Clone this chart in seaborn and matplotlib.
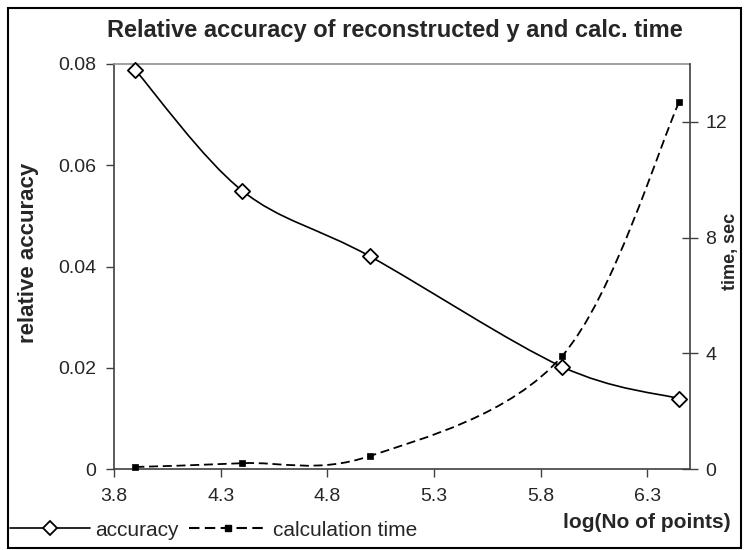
import numpy as np
import matplotlib
matplotlib.use('Agg')
import matplotlib.pyplot as plt
from matplotlib.path import Path
from matplotlib.patches import PathPatch, Rectangle
from matplotlib.lines import Line2D
import seaborn as sns

# data
log_points = [3.9, 4.4, 5.0, 5.9, 6.45]
accuracy = [0.0788, 0.0550, 0.0420, 0.0202, 0.0139]
calc_time = [0.07, 0.20, 0.45, 3.9, 12.7]
x_ticks = [3.8, 4.3, 4.8, 5.3, 5.8, 6.3]
acc_ticks = [0, 0.02, 0.04, 0.06, 0.08]
time_ticks = [0, 4, 8, 12]


def smooth_path(x, y):
    # Excel style smoothed line: one cubic bezier per segment through the points
    pts = np.column_stack([x, y])
    ext = np.vstack([pts[0], pts, pts[-1]])
    verts = [pts[0]]
    codes = [Path.MOVETO]
    for i in range(len(pts) - 1):
        p0, p1, p2, p3 = ext[i], ext[i + 1], ext[i + 2], ext[i + 3]
        verts += [p1 + (p2 - p0) / 6, p2 - (p3 - p1) / 6, p2]
        codes += [Path.CURVE4] * 3
    return Path(verts, codes)


sns.set_style('ticks')
plt.rcParams['font.family'] = ['Liberation Sans', 'DejaVu Sans']
plt.rcParams['font.size'] = 14

fig = plt.figure(figsize=(7.44, 5.5), dpi=100)
ax = fig.add_axes([114 / 744, 1 - 469 / 550, 576 / 744, 405 / 550])
ax2 = ax.twinx()

dash = (0, (5, 2.6))

# accuracy (left axis)
ax.add_patch(PathPatch(smooth_path(log_points, accuracy), fill=False,
                       edgecolor='black', lw=1.2, zorder=2))
sns.scatterplot(x=log_points, y=accuracy, marker='D', s=60, color='white',
                edgecolor='black', linewidth=1.3, ax=ax, zorder=3, clip_on=False)

# calculation time (right axis)
ax2.add_patch(PathPatch(smooth_path(log_points, calc_time), fill=False,
                        edgecolor='black', lw=1.3, linestyle=dash, zorder=2))
sns.scatterplot(x=log_points, y=calc_time, marker='s', s=22, color='black',
                edgecolor='black', linewidth=0.5, ax=ax2, zorder=3, clip_on=False)

ax.set_xlim(3.8, 6.5)
ax.set_ylim(0, 0.08)
ax2.set_ylim(0, 14)
ax.set_xticks(x_ticks)
ax.set_xticklabels([f'{t:.1f}' for t in x_ticks])
ax.set_yticks(acc_ticks)
ax.set_yticklabels(['0', '0.02', '0.04', '0.06', '0.08'])
ax2.set_yticks(time_ticks)

ax.tick_params(axis='x', direction='out', length=6, width=1, color='#404040', pad=8, labelsize=14)
ax.tick_params(axis='y', direction='out', length=6, width=1, color='#404040', pad=7, labelsize=14)
ax2.tick_params(axis='y', direction='inout', length=12, width=1, color='#404040', pad=5, labelsize=14)

for s in ['left', 'bottom']:
    ax.spines[s].set_color('#404040')
ax.spines['top'].set_color('#909090')
ax.spines['right'].set_visible(False)
for s in ['left', 'top', 'bottom']:
    ax2.spines[s].set_visible(False)
ax2.spines['right'].set_visible(True)
ax2.spines['right'].set_color('#404040')
for a in (ax, ax2):
    for sp in a.spines.values():
        sp.set_linewidth(1.2)

ax.set_ylabel('relative accuracy', fontweight='bold', fontsize=16)
ax.yaxis.set_label_coords(-0.13, 0.533)
ax2.set_ylabel('time, sec', fontweight='bold', fontsize=13)
ax2.yaxis.set_label_coords(1.056, 0.536)
ax.set_xlabel('')

fig.text(395 / 744, 1 - 30 / 550, 'Relative accuracy of reconstructed y and calc. time',
         ha='center', va='center', fontweight='bold', fontsize=17)
fig.text(731 / 744, 1 - 522 / 550, 'log(No of points)', ha='right', va='center',
         fontweight='bold', fontsize=15)

handles = [
    Line2D([], [], color='black', lw=1.2, marker='D', ms=7, mfc='white', mec='black', mew=1.3),
    Line2D([], [], color='black', lw=1.5, linestyle=dash, marker='s', ms=4.5, mfc='black', mec='black'),
]
fig.legend(handles, ['accuracy', 'calculation time'], loc='lower left',
           bbox_to_anchor=(0 / 744, 0 / 550), ncol=2, frameon=False, handlelength=3.8,
           columnspacing=0.5, handletextpad=0.25, fontsize=15, borderaxespad=0.1)

fig.patches.append(Rectangle((8 / 744, 2 / 550), 733 / 744, 540 / 550, transform=fig.transFigure,
                             fill=False, edgecolor='black', lw=1.5))

fig.savefig('out.png', dpi=100)
